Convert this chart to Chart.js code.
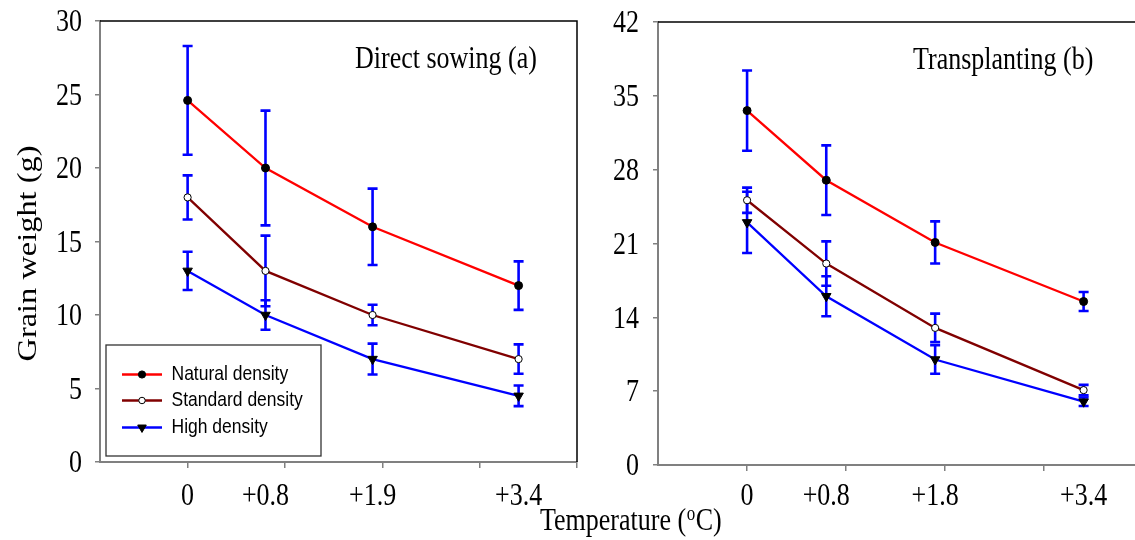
<!DOCTYPE html>
<html><head><meta charset="utf-8">
<script src="https://cdn.jsdelivr.net/npm/chart.js@4.4.1/dist/chart.umd.min.js"></script>
<style>
html,body{margin:0;padding:0;background:#fff;overflow:hidden;width:1135px;height:540px;}
#wrap{position:relative;width:1135px;height:540px;overflow:hidden;background:#fff;}
canvas{position:absolute;top:0;}
#cA{left:0;}
#cB{left:520px;}
</style></head><body>
<div id="wrap"><canvas id="cA" width="600" height="540"></canvas><canvas id="cB" width="630" height="540"></canvas></div>
<script>
// ---------- data ----------
const temperatures = [0, 0.8, 1.9, 3.4];
const xTickValues = [0, 1, 2, 3, 4];
const xLabelsA = ['0', '+0.8', '+1.9', '+3.4'];
const xLabelsB = ['0', '+0.8', '+1.8', '+3.4'];
const yTicksA = [0, 5, 10, 15, 20, 25, 30];
const yTicksB = [0, 7, 14, 21, 28, 35, 42];
const seriesNames = ['Natural density', 'Standard density', 'High density'];
const panelTitles = ['Direct sowing (a)', 'Transplanting (b)'];
const yTitle = 'Grain weight (g)';

// Direct sowing (a)
const naturalA = [24.6, 20.0, 16.0, 12.0];
const naturalErrA = [3.7, 3.9, 2.6, 1.65];
const standardA = [18.0, 13.0, 10.0, 7.0];
const standardErrA = [1.5, 2.4, 0.7, 1.0];
const highA = [13.0, 10.0, 7.0, 4.5];
const highErrA = [1.3, 1.0, 1.05, 0.7];

// Transplanting (b)
const naturalB = [33.6, 27.0, 21.1, 15.5];
const naturalErrB = [3.8, 3.3, 2.0, 0.9];
const standardB = [25.1, 19.1, 13.0, 7.1];
const standardErrB = [1.2, 2.1, 1.35, 0.5];
const highB = [23.0, 16.0, 10.0, 6.0];
const highErrB = [2.9, 1.9, 1.35, 0.4];

// ---------- helpers ----------
const S = 1.2; // vertical stretch of the reference typography
const SERIF = '"Liberation Serif", "Times New Roman", serif';
const SANS = '"Liberation Sans", Arial, sans-serif';

function sText(ctx, text, x, y, align, baseline, font, sx, sy) {
  ctx.save();
  ctx.font = font;
  ctx.fillStyle = '#000';
  ctx.textAlign = align;
  ctx.textBaseline = baseline;
  ctx.translate(x, y);
  ctx.scale(sx || 1, sy || S);
  ctx.fillText(text, 0, 0);
  ctx.restore();
}

const styles = [
  {color: '#ff0000', pointStyle: 'circle', radius: 4, bg: '#000000', rotation: 0},
  {color: '#800000', pointStyle: 'circle', radius: 3.6, bg: '#ffffff', rotation: 0},
  {color: '#0000ff', pointStyle: 'triangle', radius: 5.5, bg: '#000000', rotation: 180}
];

function makeDatasets(values, errors) {
  return values.map((vals, k) => ({
    label: seriesNames[k],
    data: temperatures.map((t, i) => ({x: t, y: vals[i]})),
    errors: errors[k],
    borderColor: styles[k].color,
    borderWidth: 2.3,
    tension: 0,
    fill: false,
    pointStyle: styles[k].pointStyle,
    pointRotation: styles[k].rotation,
    pointRadius: styles[k].radius,
    pointHoverRadius: styles[k].radius,
    pointBackgroundColor: styles[k].bg,
    pointBorderColor: '#000000',
    pointBorderWidth: 1
  }));
}

const errorBars = {
  id: 'errorBars',
  beforeDatasetsDraw(chart) {
    const {ctx, scales: {x, y}} = chart;
    ctx.save();
    ctx.strokeStyle = '#0000ff';
    ctx.lineWidth = 2.6;
    chart.data.datasets.forEach(ds => {
      ds.data.forEach((p, i) => {
        const e = ds.errors[i];
        const px = x.getPixelForValue(p.x);
        const t = y.getPixelForValue(p.y + e);
        const b = y.getPixelForValue(p.y - e);
        ctx.beginPath();
        ctx.moveTo(px, t); ctx.lineTo(px, b);
        ctx.moveTo(px - 5, t); ctx.lineTo(px + 5, t);
        ctx.moveTo(px - 5, b); ctx.lineTo(px + 5, b);
        ctx.stroke();
      });
    });
    ctx.restore();
  }
};

function decorations(opts) {
  return {
    id: 'decor',
    afterDraw(chart) {
      const {ctx, chartArea: ca, scales: {x, y}} = chart;
      ctx.save();
      // frame
      ctx.strokeStyle = '#000';
      ctx.lineWidth = 1.5;
      ctx.beginPath();
      ctx.moveTo(ca.left, ca.top); ctx.lineTo(ca.right, ca.top);
      if (opts.rightBorder) ctx.lineTo(ca.right, ca.bottom);
      ctx.stroke();
      ctx.restore();
      // y tick labels
      const tf = '26px ' + SERIF;
      y.ticks.forEach((t, i) => {
        sText(ctx, opts.yLabels[i], ca.left - opts.yLabelGap, y.getPixelForValue(t.value) + 2, 'right', 'middle', tf);
      });
      // x labels at the temperature values
      temperatures.forEach((t, i) => {
        sText(ctx, opts.xLabels[i], x.getPixelForValue(t), 505, 'center', 'alphabetic', tf);
      });
      // panel title
      sText(ctx, opts.title, ca.left + 255, ca.top + 47, 'left', 'alphabetic', tf);
      if (opts.yTitle) {
        ctx.save();
        ctx.font = '27px ' + SERIF;
        ctx.fillStyle = '#000';
        ctx.translate(36, (ca.top + ca.bottom) / 2 + 12);
        ctx.rotate(-Math.PI / 2);
        ctx.scale(S, 1);
        ctx.textAlign = 'center';
        ctx.textBaseline = 'alphabetic';
        ctx.fillText(opts.yTitle, 0, 0);
        ctx.restore();
      }
      if (opts.xTitle) {
        const x0 = opts.xTitle.x, yb = 530;
        ctx.save();
        ctx.font = '26px ' + SERIF;
        const w1 = ctx.measureText('Temperature (').width;
        ctx.font = '17px ' + SERIF;
        const wo = ctx.measureText('o').width;
        ctx.restore();
        sText(ctx, 'Temperature (', x0, yb, 'left', 'alphabetic', '26px ' + SERIF);
        sText(ctx, 'o', x0 + w1 + 0.5, yb - 10, 'left', 'alphabetic', '17px ' + SERIF);
        sText(ctx, 'C)', x0 + w1 + wo + 1, yb, 'left', 'alphabetic', '26px ' + SERIF);
      }
      if (opts.legend) {
        const bx = ca.left + 6, by = ca.bottom - 117, bw = 215, bh = 111;
        ctx.save();
        ctx.fillStyle = '#fff';
        ctx.fillRect(bx, by, bw, bh);
        ctx.strokeStyle = '#333';
        ctx.lineWidth = 1.3;
        ctx.strokeRect(bx, by, bw, bh);
        const rows = [29.5, 55.5, 82.5];
        chart.data.datasets.forEach((ds, k) => {
          const ry = by + rows[k];
          ctx.strokeStyle = ds.borderColor;
          ctx.lineWidth = 2.5;
          ctx.beginPath();
          ctx.moveTo(bx + 16, ry); ctx.lineTo(bx + 56, ry);
          ctx.stroke();
          ctx.fillStyle = ds.pointBackgroundColor;
          ctx.strokeStyle = '#000';
          ctx.lineWidth = 1;
          Chart.helpers.drawPoint(ctx, {pointStyle: ds.pointStyle, radius: ds.pointRadius * 0.9, rotation: ds.pointRotation, borderWidth: 1}, bx + 36, ry);
          sText(ctx, ds.label, bx + 65.5, ry, 'left', 'middle', '17.5px ' + SANS, 1, 1.15);
        });
        ctx.restore();
      }
    }
  };
}

function makeChart(id, datasets, yTicks, yMax, dims, opts) {
  return new Chart(document.getElementById(id), {
    type: 'line',
    data: {datasets},
    plugins: [errorBars, decorations(opts)],
    options: {
      responsive: false,
      animation: false,
      devicePixelRatio: 1,
      layout: {padding: {top: dims.top, right: dims.right, bottom: 0, left: 0}},
      plugins: {legend: {display: false}, tooltip: {enabled: false}},
      scales: {
        x: {
          type: 'linear',
          min: -0.9, max: 4,
          afterBuildTicks: s => { s.ticks = xTickValues.map(v => ({value: v})); },
          afterFit: s => { s.height = dims.xh; },
          ticks: {display: false},
          grid: {drawOnChartArea: false, drawTicks: true, tickLength: 6, color: '#808080', lineWidth: 1.5},
          border: {display: true, color: '#808080', width: 2}
        },
        y: {
          type: 'linear',
          min: 0, max: yMax,
          afterBuildTicks: s => { s.ticks = yTicks.map(v => ({value: v})); },
          afterFit: s => { s.width = dims.yw; },
          ticks: {display: false},
          grid: {drawOnChartArea: false, drawTicks: true, tickLength: 5, color: '#808080', lineWidth: 1.5},
          border: {display: true, color: '#808080', width: 2}
        }
      }
    }
  });
}

makeChart('cA',
  makeDatasets([naturalA, standardA, highA], [naturalErrA, standardErrA, highErrA]),
  yTicksA, 30,
  {top: 21, right: 23, xh: 78, yw: 100},
  {rightBorder: true, yLabels: yTicksA.map(String), yLabelGap: 18, xLabels: xLabelsA,
   title: panelTitles[0], yTitle: yTitle, legend: true});

makeChart('cB',
  makeDatasets([naturalB, standardB, highB], [naturalErrB, standardErrB, highErrB]),
  yTicksB, 42,
  {top: 22, right: 7, xh: 75, yw: 138},
  {rightBorder: false, yLabels: yTicksB.map(String), yLabelGap: 19, xLabels: xLabelsB,
   title: panelTitles[1], xTitle: {x: 20}});
</script>
</body></html>
